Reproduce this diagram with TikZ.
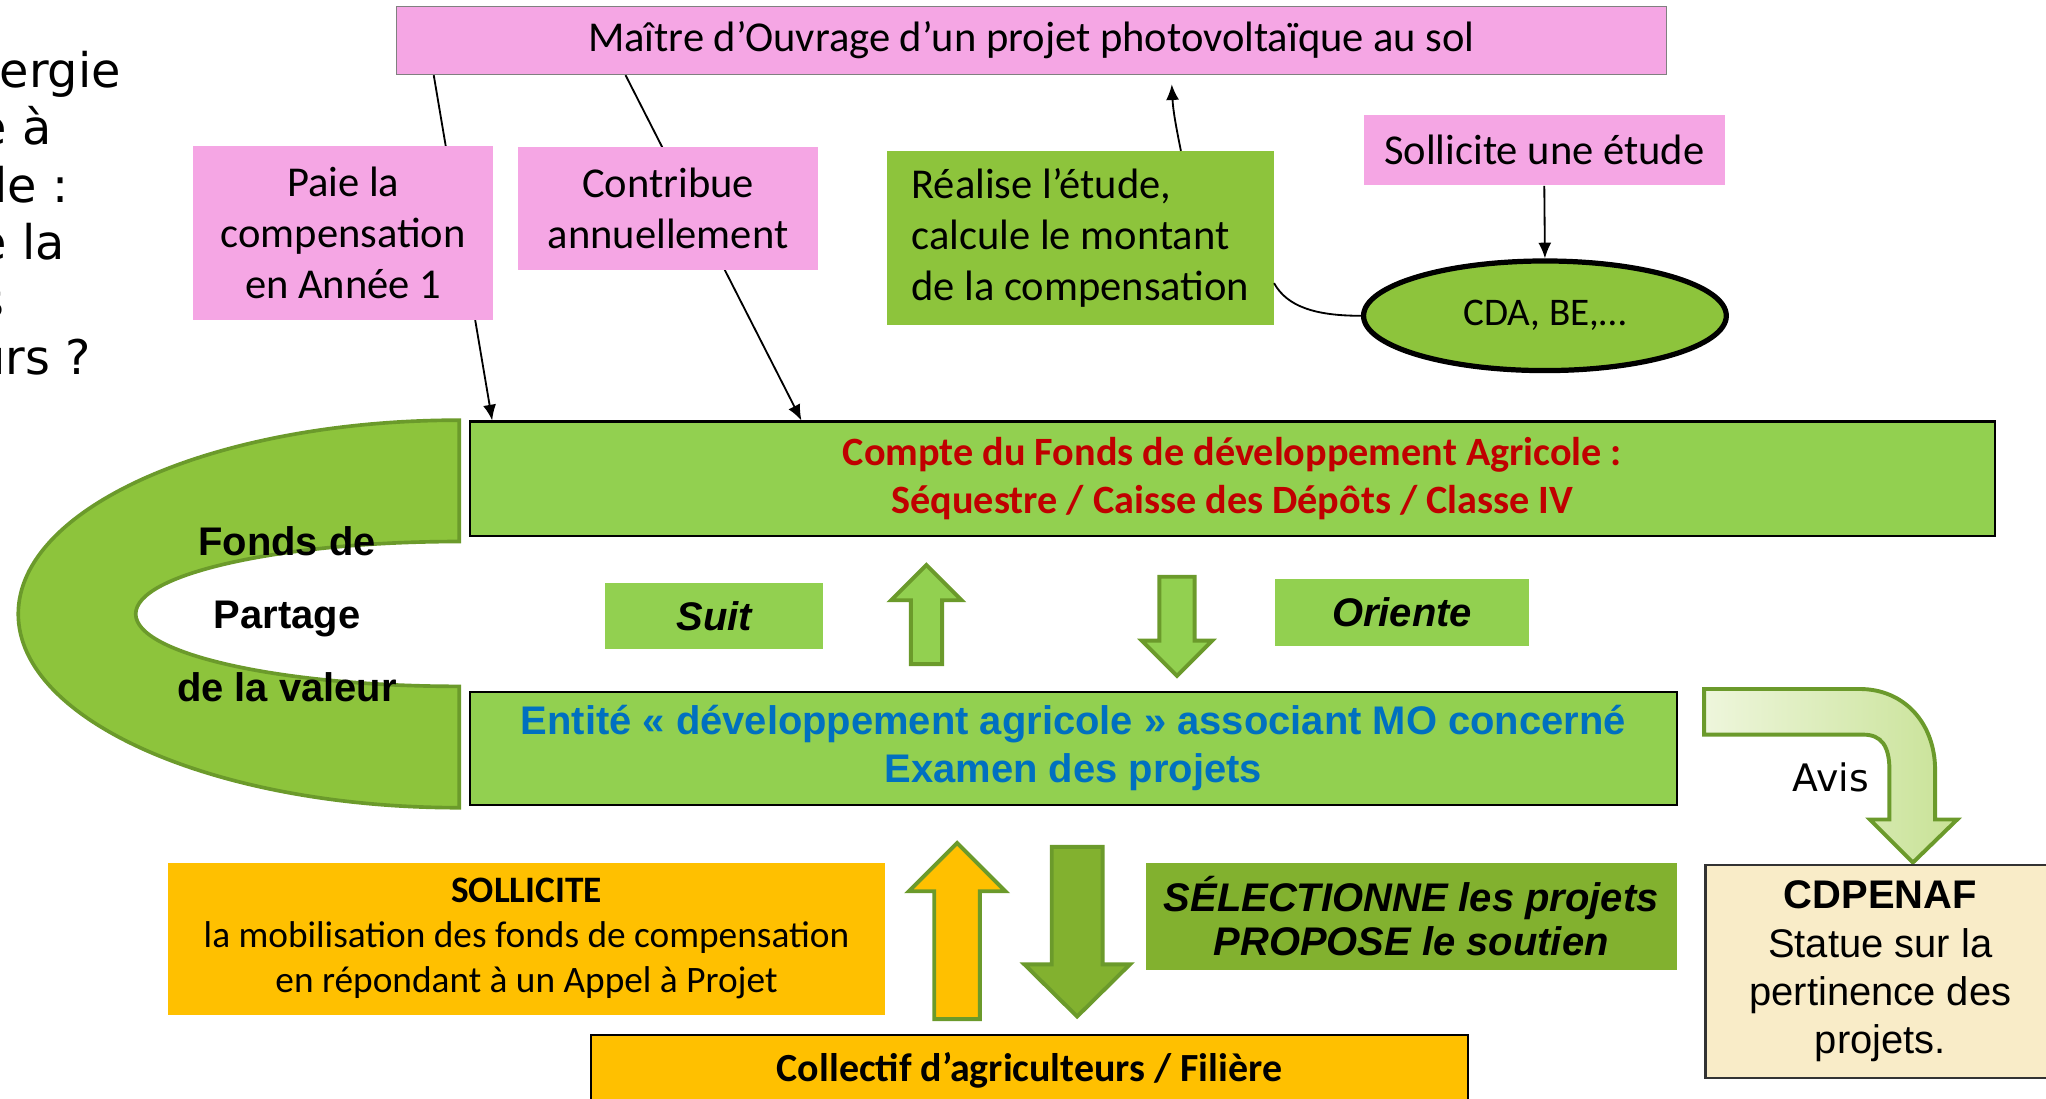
\documentclass[tikz,border=0pt]{standalone}
\usepackage{fontspec}
\setmainfont{Carlito}
\newfontfamily\arialf{Liberation Sans}
\newfontfamily\dejavuf{DejaVu Sans}
\usetikzlibrary{arrows.meta,shapes.geometric}
\definecolor{rose}{RGB}{245,166,228}
\definecolor{vertclair}{RGB}{146,208,80}
\definecolor{vertmoyen}{RGB}{141,196,60}
\definecolor{vertfonce}{RGB}{130,177,47}
\definecolor{vertbord}{RGB}{107,154,43}
\definecolor{jaune}{RGB}{255,192,0}
\definecolor{beige}{RGB}{249,236,200}
\definecolor{rouge}{RGB}{192,0,0}
\definecolor{bleu}{RGB}{0,112,192}
\definecolor{avisclair}{RGB}{238,246,220}
\definecolor{avisvert}{RGB}{200,226,150}
\begin{document}
\begin{tikzpicture}[x=0.5pt,y=-0.5pt,
  box/.style={inner sep=0pt,align=center,font=\fontsize{16.3}{19.5}\selectfont},
  rosebox/.style={box,fill=rose},
  vertbox/.style={box,fill=vertclair},
  jaunebox/.style={box,fill=jaune},
  arialgras/.style={font=\arialf\bfseries\fontsize{15.3}{18.5}\selectfont},
  arialit/.style={font=\arialf\bfseries\itshape\fontsize{15.3}{17}\selectfont},
  gauche/.style={font=\dejavuf\fontsize{18.3}{22}\selectfont,inner sep=0pt,anchor=base east},
  fleche/.style={-{Latex[length=6pt,width=5pt]},line width=0.7pt},
  bloc/.style={draw=vertbord,line width=1.5pt,line join=miter}]
\useasboundingbox (0,0) rectangle (1568,842);
\clip (0,0) rectangle (1568,842);
\node[gauche] (g1) at (93,67) {ergie};
\node[gauche] (g2) at (40,111) {e à};
\node[gauche] (g3) at (53,155) {le :};
\node[gauche] (g4) at (50,199) {e la};
\node[gauche] (g5) at (4,243) {s};
\node[gauche] (g6) at (70,287) {urs ?};
\node[rosebox,draw=gray,line width=0.6pt,minimum width=486.5pt,minimum height=26pt] (maitre) at (790.5,31) {Maître d’Ouvrage d’un projet photovoltaïque au sol};
\node[vertbox,draw=black,line width=0.8pt,minimum width=584.5pt,minimum height=44pt,font=\bfseries\fontsize{15.4}{18.5}\selectfont,text=rouge] (compte) at (944.5,367) {Compte du Fonds de développement Agricole :\\Séquestre / Caisse des Dépôts / Classe IV};
\draw[fleche] ([xshift=14.5pt]maitre.south west) -- ([xshift=9pt]compte.north west);
\draw[fleche] ([xshift=88pt]maitre.south west) -- ([xshift=127.5pt]compte.north west);
\node[rosebox,minimum width=115pt,minimum height=66.5pt] (paie) at (263,178.5) {Paie la\\compensation\\en Année 1};
\node[rosebox,minimum width=115pt,minimum height=47pt] (contribue) at (512,160) {Contribue\\annuellement};
\node[box,fill=vertmoyen,align=left,minimum width=148pt,minimum height=66.5pt] (realise) at (828,182.5) {Réalise l’étude,\\calcule le montant\\de la compensation};
\node[rosebox,minimum width=138.5pt,minimum height=27pt] (demande) at (1183.5,115) {Sollicite une étude};
\node[ellipse,draw=black,line width=2pt,fill=vertmoyen,minimum width=139pt,minimum height=42pt,inner sep=0pt,font=\fontsize{15}{18}\selectfont] (cda) at (1184,242) {CDA, BE,…};
\draw[fleche] (demande.south) -- (cda.north);
\draw[fleche] ([xshift=38.5pt]realise.north) .. controls +(-4,-20) and +(1,20) .. ([xshift=53.75pt,yshift=-3.5pt]maitre.south);
\draw[line width=0.7pt] (cda.west) .. controls +(-35,0) and +(10,18) .. ([yshift=-17.25pt]realise.east);
\draw[draw=vertbord,line width=1.4pt,fill=vertmoyen] (352,322) arc[start angle=-90,end angle=-270,x radius=338,y radius=148.5] -- (352,526) arc[start angle=90,end angle=270,x radius=248,y radius=55.5] -- cycle;
\node[arialgras,align=center,font=\arialf\bfseries\fontsize{15.3}{28}\selectfont] (fonds) at (220,471) {Fonds de\\Partage\\de la valeur};
\node[vertbox,draw=black,line width=0.8pt,minimum width=462.5pt,minimum height=43.5pt,arialgras,text=bleu] (entite) at (822.5,573.5) {Entité « développement agricole » associant MO concerné\\Examen des projets};
\node[vertbox,arialit,minimum width=83.5pt,minimum height=25pt] (suit) at (547.5,472) {Suit};
\node[vertbox,arialit,minimum width=97.5pt,minimum height=25.5pt] (oriente) at (1074.5,469.5) {Oriente};
\draw[bloc,fill=vertclair] (698,509) -- (698,460) -- (683,460) -- (710,433) -- (737,460) -- (722,460) -- (722,509) -- cycle;
\draw[bloc,fill=vertclair] (888.5,442) -- (915.5,442) -- (915.5,491) -- (929,491) -- (902,518) -- (875,491) -- (888.5,491) -- cycle;
\draw[bloc,left color=avisclair,right color=avisvert] (1306,528) -- (1425,528) .. controls (1460,528) and (1483,555) .. (1483,590) -- (1483,628) -- (1500,628) -- (1466,661) -- (1433,628) -- (1448,628) -- (1448,590) .. controls (1448,572) and (1442,563) .. (1428,563) -- (1306,563) -- cycle;
\node[font=\dejavuf\fontsize{14.5}{17}\selectfont] (avis) at (1403,596) {Avis};
\node[box,fill=beige,draw=black!80,line width=0.8pt,minimum width=134pt,minimum height=81.5pt,font=\arialf\fontsize{15.3}{18.5}\selectfont] (cdpenaf) at (1441,744.5) {\textbf{CDPENAF}\\Statue sur la\\pertinence des\\projets.};
\node[jaunebox,minimum width=274.5pt,minimum height=58.5pt,font=\fontsize{14.3}{17.25}\selectfont] (sollicite) at (403.5,719.5) {\textbf{SOLLICITE}\\la mobilisation des fonds de compensation\\en répondant à un Appel à Projet};
\node[box,fill=vertfonce,arialit,minimum width=203.5pt,minimum height=41pt] (selection) at (1081.5,702) {SÉLECTIONNE les projets\\PROPOSE le soutien};
\draw[bloc,fill=jaune] (716,781) -- (716,683) -- (696.5,683) -- (733.5,646) -- (770.5,683) -- (751,683) -- (751,781) -- cycle;
\draw[bloc,fill=vertfonce] (806,649) -- (845,649) -- (845,739) -- (866,739) -- (825.5,779) -- (785,739) -- (806,739) -- cycle;
\node[jaunebox,draw=black,line width=0.8pt,minimum width=336pt,minimum height=27pt,font=\bfseries\fontsize{15.3}{18}\selectfont] (collectif) at (789,820) {Collectif d’agriculteurs / Filière};
\end{tikzpicture}
\end{document}
